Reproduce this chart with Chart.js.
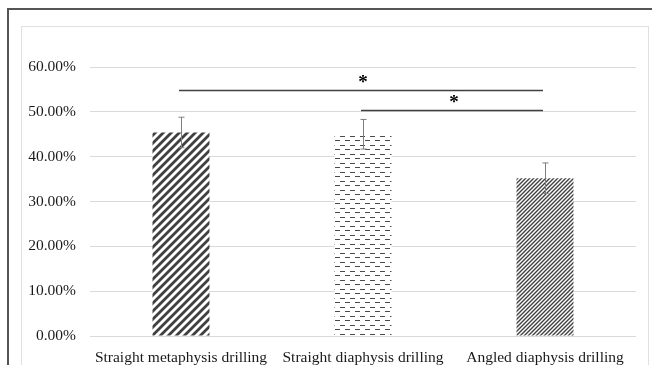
<!DOCTYPE html>
<html lang="en">

<head>
    <meta charset="UTF-8">
    <title>Drilling comparison</title>
    <script src="https://cdn.jsdelivr.net/npm/chart.js"></script>
    <style>
        html, body { margin: 0; padding: 0; background: #fff; }
        .wrap { position: relative; width: 652px; height: 365px; overflow: hidden; }
        .outer { position: absolute; left: 7px; top: 8px; width: 700px; height: 400px;
                 border-top: 2px solid #555; border-left: 2px solid #555; }
        .inner { position: absolute; left: 21px; top: 26px; width: 626px; height: 400px;
                 border: 1px solid #e0e0e0; }
        canvas { position: absolute; left: 0; top: 0; }
    </style>
</head>

<body>
    <div class="wrap">
        <div class="outer"></div>
        <div class="inner"></div>
        <canvas id="chart" width="652" height="365"></canvas>
    </div>

    <script>
        // data
        const categories = ['Straight metaphysis drilling', 'Straight diaphysis drilling', 'Angled diaphysis drilling'];
        const values = [0.454, 0.450, 0.352];
        const errors = [0.034, 0.033, 0.034];
        const yTicks = [0, 0.1, 0.2, 0.3, 0.4, 0.5, 0.6];
        // significance brackets: from category index, to category index, height
        const sigFrom = [0, 1];
        const sigTo = [2, 2];
        const sigLevel = [0.548, 0.503];
        const sigLabel = ['*', '*'];

        function makePattern(w, h, draw) {
            const c = document.createElement('canvas');
            c.width = w; c.height = h;
            const g = c.getContext('2d');
            g.fillStyle = '#fff';
            g.fillRect(0, 0, w, h);
            draw(g);
            return document.getElementById('chart').getContext('2d').createPattern(c, 'repeat');
        }

        function diag(size, lw, color) {
            return makePattern(size, size, g => {
                g.strokeStyle = color;
                g.lineWidth = lw;
                g.beginPath();
                g.moveTo(-1, size + 1); g.lineTo(size + 1, -1);
                g.moveTo(-2, 2); g.lineTo(2, -2);
                g.moveTo(size - 2, size + 2); g.lineTo(size + 2, size - 2);
                g.stroke();
            });
        }

        const dashes = makePattern(10, 9, g => {
            g.fillStyle = '#4a4a4a';
            g.fillRect(0, 1, 5, 1);
            g.fillRect(5, 5, 5, 1);
        });

        const fills = [diag(8, 2.8, '#404040'), dashes, diag(4, 1.4, '#404040')];

        const overlay = {
            id: 'overlay',
            afterDatasetsDraw(chart) {
                const ctx = chart.ctx;
                const x = chart.scales.x, y = chart.scales.y;
                ctx.save();
                // error bars
                ctx.strokeStyle = '#7f7f7f';
                ctx.lineWidth = 1;
                values.forEach((v, i) => {
                    const cx = Math.round(x.getPixelForValue(i)) + 0.5;
                    const top = y.getPixelForValue(v + errors[i]);
                    const bot = y.getPixelForValue(v - errors[i]);
                    ctx.beginPath();
                    ctx.moveTo(cx, top); ctx.lineTo(cx, bot);
                    ctx.moveTo(cx - 3, top); ctx.lineTo(cx + 3, top);
                    ctx.moveTo(cx - 3, bot); ctx.lineTo(cx + 3, bot);
                    ctx.stroke();
                });
                // significance lines
                ctx.strokeStyle = '#404040';
                ctx.lineWidth = 1.3;
                ctx.fillStyle = '#000';
                ctx.font = 'bold 19px "Liberation Serif"';
                ctx.textAlign = 'center';
                ctx.textBaseline = 'middle';
                sigLevel.forEach((lv, k) => {
                    const x1 = x.getPixelForValue(sigFrom[k]) - 2;
                    const x2 = x.getPixelForValue(sigTo[k]) - 2;
                    const yy = Math.round(y.getPixelForValue(lv)) + 0.5;
                    ctx.beginPath();
                    ctx.moveTo(x1, yy); ctx.lineTo(x2, yy);
                    ctx.stroke();
                    ctx.fillText(sigLabel[k], (x1 + x2) / 2 + 2, yy - 7);
                });
                ctx.restore();
            }
        };

        new Chart(document.getElementById('chart'), {
            type: 'bar',
            data: {
                labels: categories,
                datasets: [{
                    data: values,
                    backgroundColor: fills,
                    borderWidth: 0,
                    barPercentage: 0.313,
                    categoryPercentage: 1
                }]
            },
            options: {
                responsive: false,
                animation: false,
                layout: { padding: { left: 26, right: 16, top: 67, bottom: 0 } },
                plugins: { legend: { display: false }, tooltip: { enabled: false } },
                scales: {
                    x: {
                        grid: { display: false },
                        border: { display: false },
                        ticks: {
                            color: '#1a1a1a', padding: 5, maxRotation: 0,
                            font: { family: '"Liberation Serif"', size: 15.5 }
                        },
                        afterFit: s => { s.height = 29; }
                    },
                    y: {
                        min: 0, max: 0.6,
                        afterBuildTicks: s => { s.ticks = yTicks.map(v => ({ value: v })); },
                        grid: { color: '#d9d9d9', drawTicks: false },
                        border: { display: false },
                        ticks: {
                            color: '#1a1a1a', padding: 14,
                            font: { family: '"Liberation Serif"', size: 15.5 },
                            callback: v => (v * 100).toFixed(2) + '%'
                        },
                        afterFit: s => { s.width = 64; }
                    }
                }
            },
            plugins: [overlay]
        });
    </script>

</body>

</html>
